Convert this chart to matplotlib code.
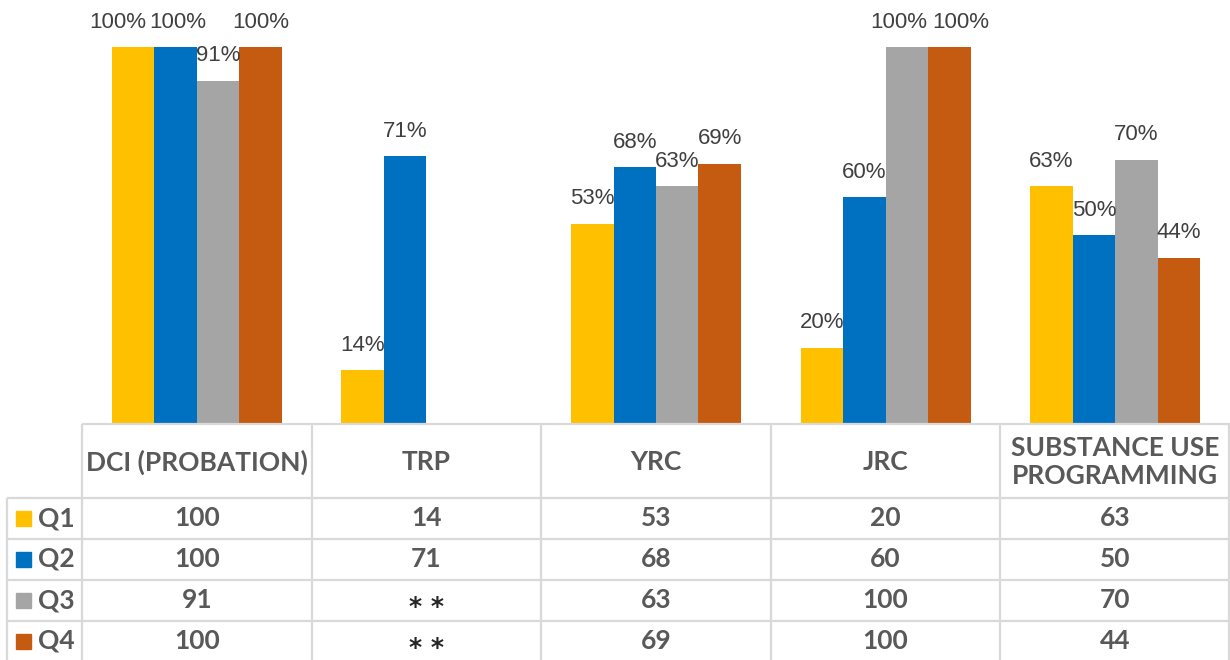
import matplotlib.pyplot as plt
import numpy as np

# data
categories = ['DCI (PROBATION)', 'TRP', 'YRC', 'JRC', 'SUBSTANCE USE\nPROGRAMMING']
quarters = ['Q1', 'Q2', 'Q3', 'Q4']
q1 = [100, 14, 53, 20, 63]
q2 = [100, 71, 68, 60, 50]
q3 = [91, None, 63, 100, 70]
q4 = [100, None, 69, 100, 44]
series = [q1, q2, q3, q4]
colors = ['#FFC000', '#0070C0', '#A5A5A5', '#C55A11']

W, H = 1230, 660
fig = plt.figure(figsize=(W / 100, H / 100), dpi=100)

# bar area
ax = fig.add_axes([82 / W, (H - 423) / H, (W - 82) / W, 423 / H])
ax.set_xlim(-0.5, 4.5)
ax.set_ylim(0, 100 * 423 / 376)
ax.axis('off')

bw = 0.185
x = np.arange(len(categories))
lab_font = ['Liberation Sans Narrow', 'Liberation Sans']
# small sideways shifts so crowded labels don't collide (category, series)
nudge = {(0, 0): -15, (0, 1): 2, (3, 2): -8, (3, 3): 11}
for i, s in enumerate(series):
    for j, v in enumerate(s):
        if v is None:
            continue
        xi = x[j] + (i - 1.5) * bw
        ax.bar(xi, v, bw, color=colors[i], edgecolor='none')
        ax.annotate(f'{v}%', (xi, v), xytext=(nudge.get((j, i), 0), 25),
                    textcoords='offset pixels', ha='center', va='center',
                    fontsize=16, color='#404040', family=lab_font)

# table below the bars (y in image pixels)
tax = fig.add_axes([82 / W, 0, (W - 82) / W, (H - 423) / H])
tax.set_xlim(-0.5, 4.5)
tax.set_ylim(H, 423)
tax.axis('off')


def px2x(px):
    return -0.5 + (px - 82) / 229.6


line_kw = dict(color='#D9D9D9', lw=1.6, clip_on=False, solid_capstyle='butt')
tax.plot([-0.5, 4.5], [424, 424], **line_kw)
for yy in [498, 539, 580, 621]:
    tax.plot([px2x(7), 4.5], [yy, yy], **line_kw)
tax.plot([-0.5, -0.5], [424, H], **line_kw)
tax.plot([px2x(7), px2x(7)], [498, H], **line_kw)
for k in range(4):
    tax.plot([k + 0.5, k + 0.5], [424, H], **line_kw)
tax.plot([px2x(1229), px2x(1229)], [424, H], **line_kw)

tab_font = ['Lato', 'DejaVu Sans']
for j, c in enumerate(categories):
    tax.text(x[j], 462, c, ha='center', va='center', fontsize=19,
             fontweight='bold', color='#595959', family=tab_font,
             linespacing=1.2)

row_y = [518, 559, 600, 641]
for i, s in enumerate(series):
    tax.add_patch(plt.Rectangle((px2x(16), row_y[i] - 7.5), 15 / 229.6, 15,
                                color=colors[i], clip_on=False))
    tax.text(px2x(38), row_y[i], quarters[i], ha='left', va='center',
             fontsize=19, fontweight='bold', color='#595959', family=tab_font)
    for j, v in enumerate(s):
        if v is None:
            tax.text(x[j], row_y[i] + 14, '* *', ha='center', va='baseline',
                     fontsize=18, fontweight='bold', color='#262626',
                     family='DejaVu Sans')
        else:
            tax.text(x[j], row_y[i], str(v), ha='center', va='center',
                     fontsize=19, fontweight='bold', color='#595959',
                     family=tab_font)

fig.savefig('out.png', dpi=100)
